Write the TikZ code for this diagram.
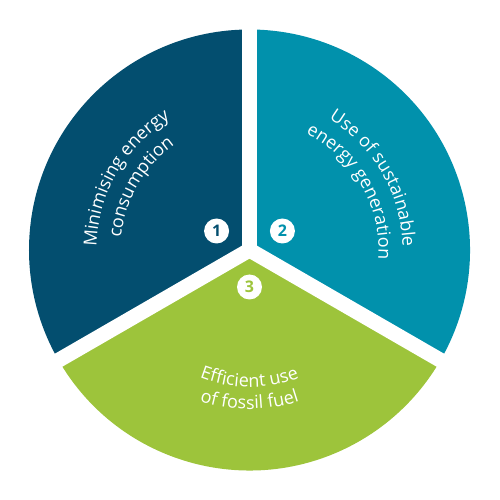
\documentclass[tikz,border=0pt]{standalone}
\usepackage{fontspec}
\setsansfont{Open Sans}
\usetikzlibrary{decorations.text}
\definecolor{deepblue}{HTML}{034E6F}
\definecolor{petrol}{HTML}{0191AC}
\definecolor{leaf}{HTML}{9DC43B}
\newcommand{\wheelfont}{\fontsize{18}{22}\sffamily}
\tikzset{
  arclabel/.style={decorate,decoration={text along path,text align=center,
    text color=white,text={|\wheelfont|#1}}},
  numdisc/.style={circle,fill=white,minimum size=25,inner sep=0,text=#1,
    font=\fontsize{16}{16}\sffamily\bfseries}
}

\begin{document}
\begin{tikzpicture}[x=1pt,y=1pt]
  \useasboundingbox (-249.5,-250) rectangle (250.5,250);
  % three sectors
  \fill[deepblue] (0,0) -- (90:220.5) arc[start angle=90,end angle=210,radius=220.5] -- cycle;
  \fill[petrol] (0,0) -- (-30:220.5) arc[start angle=-30,end angle=90,radius=220.5] -- cycle;
  \fill[leaf] (0,0) -- (210:220.5) arc[start angle=210,end angle=330,radius=220.5] -- cycle;
  % white gaps
  \foreach \a in {90,210,330}
    \draw[white,line width=15] (0,0) -- (\a:230);
  % left: first aim
  \path[arclabel=Minimising energy] (210:153) arc[start angle=210,end angle=90,radius=153];
  \path[arclabel=consumption] (210:129) arc[start angle=210,end angle=90,radius=129];
  % right: second aim
  \path[arclabel=Use of sustainable] (90:153) arc[start angle=90,end angle=-30,radius=153];
  \path[arclabel=energy generation] (90:129) arc[start angle=90,end angle=-30,radius=129];
  % bottom: third aim
  \path[arclabel=Efficient use] (210:137) arc[start angle=210,end angle=330,radius=137];
  \path[arclabel=of fossil fuel] (210:159) arc[start angle=210,end angle=330,radius=159];
  % numbers
  \node[numdisc=deepblue] (n1) at (150:38) {1};
  \node[numdisc=petrol] (n2) at (30:38) {2};
  \node[numdisc=leaf] (n3) at (270:37) {3};
\end{tikzpicture}
\end{document}
